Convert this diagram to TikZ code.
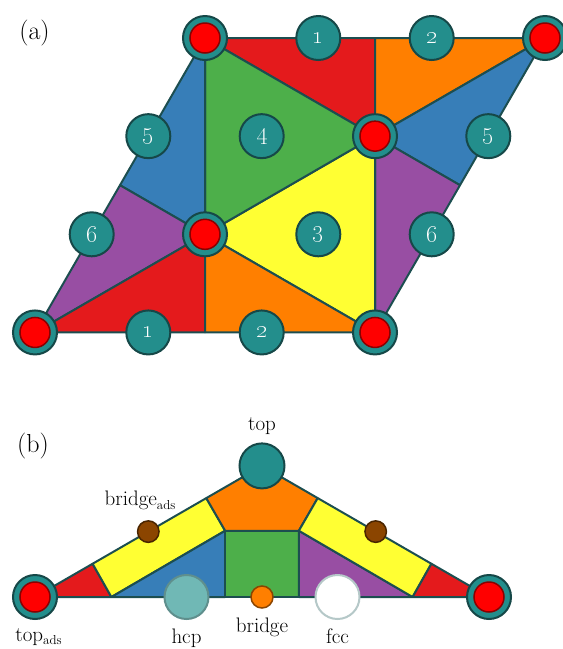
\documentclass[tikz,border=0pt]{standalone}
\definecolor{cRed}{HTML}{E41A1C}
\definecolor{cOrange}{HTML}{FF7F00}
\definecolor{cBlue}{HTML}{377EB8}
\definecolor{cPurple}{HTML}{984EA3}
\definecolor{cYellow}{HTML}{FFFF33}
\definecolor{cGreen}{HTML}{4DAF4A}
\definecolor{edgec}{RGB}{28,78,80}
\definecolor{tealc}{RGB}{35,142,140}
\definecolor{tealo}{RGB}{22,72,72}
\definecolor{atomred}{HTML}{FF0000}
\definecolor{atomo}{HTML}{8B0000}
\definecolor{brownc}{HTML}{8B4500}
\definecolor{browno}{HTML}{4A2500}
\definecolor{hcpc}{HTML}{70B8B5}
\definecolor{hcpo}{HTML}{5F8F8D}
\definecolor{fcco}{HTML}{B5C8C8}
\begin{document}
\begin{tikzpicture}[x=1pt,y=-1pt,
  region/.style={draw=edgec, line width=2pt, line join=round},
  site/.style={circle, fill=tealc, draw=tealo, line width=2pt, minimum size=44pt, inner sep=0pt, text=white, font=\fontsize{25}{25}\selectfont},
  atom/.style={circle, fill=atomred, draw=atomo, line width=1.5pt, minimum size=30pt, inner sep=0pt},
  smallb/.style={circle, fill=brownc, draw=browno, line width=1.5pt, minimum size=21.5pt, inner sep=0pt},
  lab/.style={font=\fontsize{21}{24}\selectfont, inner sep=0pt, anchor=base},
  plab/.style={font=\fontsize{26}{30}\selectfont, inner sep=0pt, anchor=base}]
\useasboundingbox (0,0) rectangle (563,649);
% ---------- panel (a) ----------
\coordinate (A) at (205,38);
\coordinate (B) at (545,38);
\coordinate (C) at (35,332.45);
\coordinate (D) at (375,332.45);
\coordinate (G1) at (375,136.15);
\coordinate (G2) at (205,234.3);
\coordinate (Mab) at (375,38);
\coordinate (Mbd) at (460,185.2);
\coordinate (Mac) at (120,185.2);
\coordinate (Mcd) at (205,332.45);
\draw[region, fill=cRed] (A) -- (Mab) -- (G1) -- cycle;
\draw[region, fill=cOrange] (Mab) -- (B) -- (G1) -- cycle;
\draw[region, fill=cBlue] (B) -- (Mbd) -- (G1) -- cycle;
\draw[region, fill=cPurple] (Mbd) -- (D) -- (G1) -- cycle;
\draw[region, fill=cYellow] (D) -- (G2) -- (G1) -- cycle;
\draw[region, fill=cGreen] (A) -- (G1) -- (G2) -- cycle;
\draw[region, fill=cBlue] (A) -- (Mac) -- (G2) -- cycle;
\draw[region, fill=cPurple] (Mac) -- (C) -- (G2) -- cycle;
\draw[region, fill=cRed] (C) -- (Mcd) -- (G2) -- cycle;
\draw[region, fill=cOrange] (Mcd) -- (D) -- (G2) -- cycle;
\foreach \p in {A,B,C,D,G1,G2}{
  \node[site] (s\p) at (\p) {};
  \node[atom] (r\p) at (\p) {};
}
\node[site] (n1a) at (318.3,38) {\oldstylenums{1}};
\node[site] (n2a) at (431.7,38) {\oldstylenums{2}};
\node[site] (n1b) at (148.3,332.45) {\oldstylenums{1}};
\node[site] (n2b) at (261.7,332.45) {\oldstylenums{2}};
\node[site] (n5a) at (148.3,136.15) {\oldstylenums{5}};
\node[site] (n5b) at (488.3,136.15) {\oldstylenums{5}};
\node[site] (n4) at (261.7,136.15) {\oldstylenums{4}};
\node[site] (n3) at (318.3,234.3) {\oldstylenums{3}};
\node[site] (n6a) at (91.7,234.3) {\oldstylenums{6}};
\node[site] (n6b) at (431.7,234.3) {\oldstylenums{6}};
\node[plab] (la) at (34.5,39.5) {(a)};
% ---------- panel (b) ----------
\coordinate (L) at (35,597);
\coordinate (R) at (489,597);
\coordinate (T) at (262,465.9);
\coordinate (P1) at (92.6,563.75);
\coordinate (P2) at (206.3,498.1);
\coordinate (Q1) at (111.4,597);
\coordinate (Q2) at (225.15,530.75);
\coordinate (F1) at (225.15,597);
\coordinate (P1r) at (431.4,563.75);
\coordinate (P2r) at (317.7,498.1);
\coordinate (Q1r) at (412.6,597);
\coordinate (Q2r) at (298.85,530.75);
\coordinate (F2) at (298.85,597);
\draw[region, fill=cRed] (L) -- (P1) -- (Q1) -- cycle;
\draw[region, fill=cYellow] (P1) -- (P2) -- (Q2) -- (Q1) -- cycle;
\draw[region, fill=cOrange] (P2) -- (T) -- (P2r) -- (Q2r) -- (Q2) -- cycle;
\draw[region, fill=cBlue] (Q1) -- (Q2) -- (F1) -- cycle;
\draw[region, fill=cGreen] (Q2) -- (Q2r) -- (F2) -- (F1) -- cycle;
\draw[region, fill=cPurple] (Q2r) -- (Q1r) -- (F2) -- cycle;
\draw[region, fill=cYellow] (P2r) -- (P1r) -- (Q1r) -- (Q2r) -- cycle;
\draw[region, fill=cRed] (P1r) -- (R) -- (Q1r) -- cycle;
\node[site, minimum size=45pt] (sT) at (T) {};
\node[site] (sL) at (L) {};
\node[atom] (rL) at (L) {};
\node[site] (sR) at (R) {};
\node[atom] (rR) at (R) {};
\node[smallb] (bl) at (148.3,531.6) {};
\node[smallb] (br) at (375.7,531.6) {};
\node[circle, fill=hcpc, draw=hcpo, line width=2pt, minimum size=44pt, inner sep=0pt] (hcp) at (186.5,597) {};
\node[circle, fill=white, draw=fcco, line width=2pt, minimum size=44pt, inner sep=0pt] (fcc) at (337.5,597) {};
\node[circle, fill=cOrange, draw=brownc, line width=1.5pt, minimum size=22pt, inner sep=0pt] (brg) at (262,597) {};
\node[plab] (lb) at (33,452.5) {(b)};
\node[lab] (ttop) at (262,430) {top};
\node[lab] (tbads) at (140,505) {bridge{\fontsize{13}{13}\selectfont\raisebox{-4pt}{ads}}};
\node[lab] (ttads) at (38.5,641) {top{\fontsize{13}{13}\selectfont\raisebox{-3.5pt}{ads}}};
\node[lab] (thcp) at (186.5,643) {hcp};
\node[lab] (tbr) at (262,632) {bridge};
\node[lab] (tfcc) at (337.5,643) {fcc};
\end{tikzpicture}
\end{document}
